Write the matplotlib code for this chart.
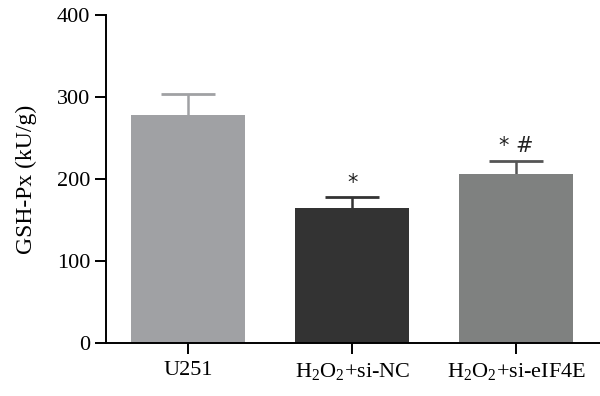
import matplotlib
matplotlib.use("Agg")
import matplotlib.pyplot as plt

# data
groups = ["U251", r"H$_2$O$_2$+si-NC", r"H$_2$O$_2$+si-eIF4E"]
means = [277.5, 165, 205.5]
errors = [26.5, 12.5, 16]
bar_colors = ["#a0a1a4", "#333333", "#7f8180"]
err_colors = ["#a0a1a4", "#333333", "#555555"]
marks = ["", "*", "* #"]

plt.rcParams["font.family"] = ["Liberation Serif", "DejaVu Serif"]
plt.rcParams["mathtext.fontset"] = "custom"
plt.rcParams["mathtext.rm"] = "Liberation Serif"
plt.rcParams["mathtext.it"] = "Liberation Serif:italic"

fig = plt.figure(figsize=(6, 3.96), dpi=100)
ax = fig.add_axes([0.177, 0.134, 0.823, 0.828])

x = range(len(groups))
half_cap = 0.165
for i in x:
    ax.bar(i, means[i], width=0.695, color=bar_colors[i], zorder=2)
    top = means[i] + errors[i]
    # upper error bar only
    ax.vlines(i, means[i], top, color=err_colors[i], lw=1.8, zorder=1)
    ax.hlines(top, i - half_cap, i + half_cap, color=err_colors[i], lw=2, zorder=1)
    if marks[i]:
        ax.text(i, top + 6, marks[i], ha="center", va="bottom",
                fontsize=15, family="DejaVu Sans", color="#222222")

ax.set_xlim(-0.5, 2.51)
ax.set_ylim(0, 400)
ax.set_yticks([0, 100, 200, 300, 400])
ax.set_xticks(list(x))
ax.set_xticklabels(groups)
ax.set_ylabel("GSH-Px (kU/g)", fontsize=17, labelpad=14)

for s in ["top", "right"]:
    ax.spines[s].set_visible(False)
for s in ["left", "bottom"]:
    ax.spines[s].set_linewidth(1.4)
ax.tick_params(axis="both", direction="out", length=8, width=1.4,
               labelsize=16, colors="black")
ax.tick_params(axis="x", pad=5)

fig.savefig("out.png", dpi=100)
